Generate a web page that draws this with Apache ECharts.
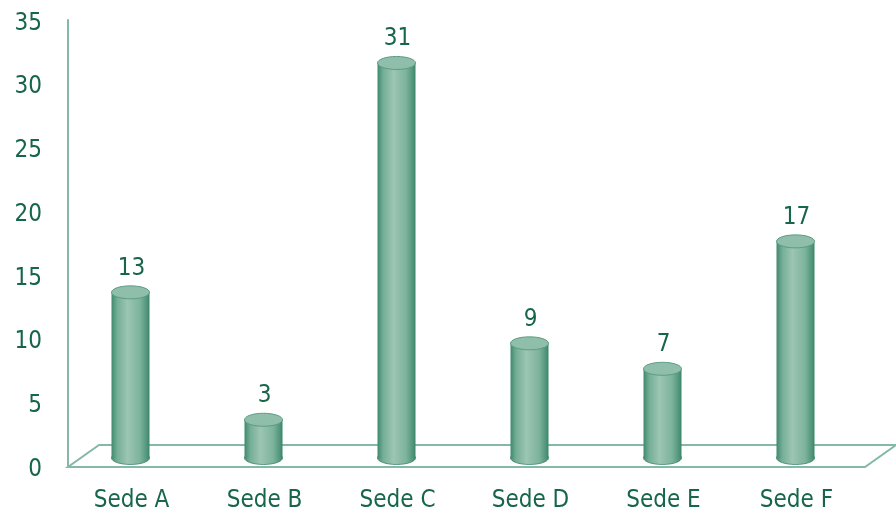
<!DOCTYPE html>
<html><head><meta charset="utf-8">
<script src="https://cdn.jsdelivr.net/npm/echarts@6/dist/echarts.min.js"></script>
<style>html,body{margin:0;padding:0;background:#fff}#c{width:896px;height:517px}</style>
</head><body><div id="c"></div>
<script>
const categories = ['Sede A','Sede B','Sede C','Sede D','Sede E','Sede F'];
const values = [13, 3, 31, 9, 7, 17];
const yTicks = [0, 5, 10, 15, 20, 25, 30, 35];

const FONT = '"DejaVu Sans Condensed","Liberation Sans Narrow",sans-serif';
const TXT = '#17664a';
const LINE = '#86b9a5';

const chart = echarts.init(document.getElementById('c'), null, {renderer:'canvas'});

function bodyGrad(){
  return new echarts.graphic.LinearGradient(0,0,1,0,[
    {offset:0, color:'#3f8a6d'},
    {offset:0.15, color:'#74ae97'},
    {offset:0.42, color:'#9cc5b4'},
    {offset:0.75, color:'#7db39d'},
    {offset:0.92, color:'#53977c'},
    {offset:1, color:'#3a856a'}
  ]);
}

const option = {
  animation:false,
  grid:{left:65, width:798, top:20, bottom:51},
  xAxis:{
    type:'category', data:categories,
    axisLine:{show:false}, axisTick:{show:false},
    axisLabel:{color:TXT, fontFamily:FONT, fontSize:24, margin:23}
  },
  yAxis:{
    type:'value', min:yTicks[0], max:yTicks[yTicks.length-1], interval:5,
    offset:-3,
    splitLine:{show:false},
    axisLine:{show:true, lineStyle:{color:LINE, width:2}},
    axisTick:{show:false},
    axisLabel:{
      margin:26,
      formatter:function(v){ return '{a|' + v + '}'; },
      rich:{a:{color:TXT, fontFamily:FONT, fontSize:24, padding:[7,0,0,0]}}
    }
  },
  series:[
    {
      type:'custom', z:1, silent:true,
      data:[[0,0]],
      renderItem:function(params, api){
        const cs = params.coordSys;
        const x0 = cs.x + 3, y0 = cs.y + cs.height + 1;
        const x1 = cs.x + cs.width + 2;
        const dx = 31, dy = -22;
        return {
          type:'polygon',
          shape:{points:[[x0,y0],[x1,y0],[x1+dx,y0+dy],[x0+dx,y0+dy]]},
          style:{fill:'none', stroke:LINE, lineWidth:2}
        };
      }
    },
    {
      type:'custom', z:2, silent:true,
      data: values.map((v,i)=>[i,v]),
      renderItem:function(params, api){
        const i = api.value(0), v = api.value(1);
        const base = api.coord([i,0]);
        const top = api.coord([i,v]);
        const rx = 19, ry = 6.5;
        const cx = base[0] - 1;
        const yb = base[1] - 8;
        const yt = top[1] - 8;
        return {
          type:'group',
          children:[
            {type:'ellipse', shape:{cx:cx, cy:yb, rx:rx, ry:ry},
             style:{fill:bodyGrad(), stroke:'#3d876b', lineWidth:0.8}},
            {type:'rect', shape:{x:cx-rx, y:yt, width:rx*2, height:yb-yt},
             style:{fill:bodyGrad()}},
            {type:'ellipse', shape:{cx:cx, cy:yt, rx:rx, ry:ry},
             style:{fill:'#8fbfab', stroke:'#5d9b83', lineWidth:1}},
            {type:'text', style:{text:String(v), x:cx+1, y:yt-24, fill:TXT,
              font:'24px '+FONT, align:'center', verticalAlign:'middle'}}
          ]
        };
      }
    }
  ]
};
chart.setOption(option);
</script></body></html>
